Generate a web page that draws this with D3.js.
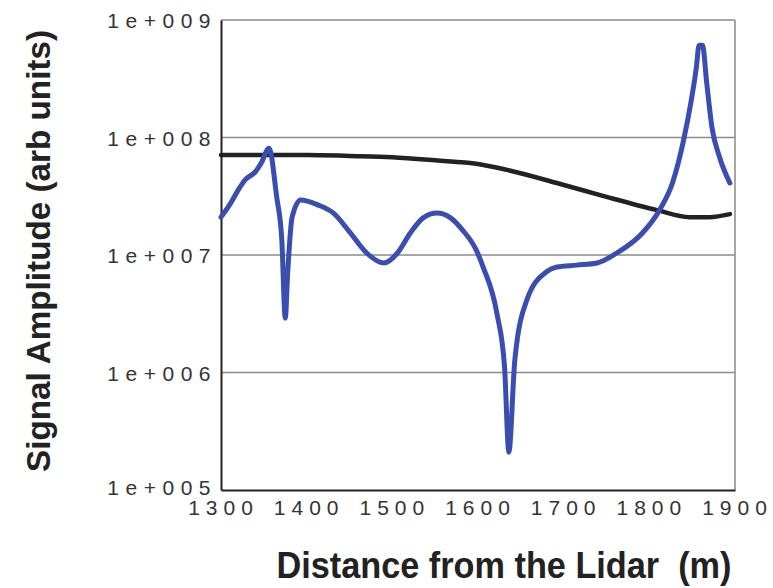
<!DOCTYPE html>
<html><head><meta charset="utf-8">
<script src="https://cdn.jsdelivr.net/npm/d3@7"></script>
<style>body{margin:0;background:#fff}svg{display:block}</style>
</head><body>
<svg id="c" width="773" height="588"></svg>
<script>
const xTicks = [1300,1400,1500,1600,1700,1800,1900];
const yTicks = [1e5,1e6,1e7,1e8,1e9];
const blackX = [1300,1400,1450,1500,1550,1600,1634,1692,1750,1808,1847,1870,1894];
const blackY = [7.1e7,7.1e7,6.97e7,6.8e7,6.4e7,5.95e7,5.3e7,4.1e7,3.12e7,2.42e7,2.1e7,2.1e7,2.23e7];
const blueX = [1300,1310,1320,1328,1340,1347,1356,1365,1371,1375,1378,1383,1393,1413,1431,1451,1470,1490,1506,1521,1536,1552,1568,1582,1598,1606,1622,1631,1636,1643,1657,1680,1692,1715,1739,1762,1792,1812,1827,1840,1849,1855,1858,1862,1867,1873,1882,1894];
const blueY = [2.1e7,2.67e7,3.57e7,4.35e7,5.1e7,6.07e7,8.1e7,3.12e7,1.34e7,2.9e6,7.4e6,2.1e7,2.94e7,2.67e7,2.28e7,1.54e7,1.04e7,8.55e6,1.04e7,1.54e7,2.07e7,2.28e7,2.07e7,1.63e7,1.1e7,7.9e6,3.2e6,1.11e6,2.1e5,1.28e6,4.14e6,7.2e6,7.9e6,8.2e6,8.55e6,1.04e7,1.54e7,2.42e7,4.1e7,9.5e7,2.08e8,4.0e8,6.1e8,6.1e8,2.91e8,1.23e8,6.8e7,4.1e7];

const svg = d3.select("#c");
const L=221, R=735, T=20, B=490;
const x = d3.scaleLinear().domain([1300,1900]).range([L,R]);
const y = d3.scaleLog().domain([1e5,1e9]).range([B,T]);
const font = "'Liberation Sans', Arial, sans-serif";

// gridlines
svg.append("g").selectAll("line").data(yTicks.slice(1,4)).join("line")
  .attr("x1",L).attr("x2",R).attr("y1",d=>y(d)).attr("y2",d=>y(d))
  .attr("stroke","#8a8a8a").attr("stroke-width",1.5);
// top/right frame
svg.append("line").attr("x1",L).attr("x2",R).attr("y1",T).attr("y2",T).attr("stroke","#8a8a8a").attr("stroke-width",1.5);
svg.append("line").attr("x1",R).attr("x2",R).attr("y1",T).attr("y2",B).attr("stroke","#8a8a8a").attr("stroke-width",1.5);

// axes
const fmt = d => "1e+" + String(Math.round(Math.log10(d))).padStart(3,"0");
const ya = svg.append("g").attr("transform",`translate(${L},0)`)
  .call(d3.axisLeft(y).tickValues(yTicks).tickFormat(fmt).tickSize(0).tickPadding(12));
ya.select(".domain").attr("stroke","#222").attr("stroke-width",2);
ya.selectAll("text").attr("font-family",font).attr("font-size",21).attr("fill","#333")
  .attr("letter-spacing","6.5px").attr("dx","8px").attr("dy",d=>d===1e5?"0.2em":"0.36em");
const xa = svg.append("g").attr("transform",`translate(0,${B})`)
  .call(d3.axisBottom(x).tickValues(xTicks).tickFormat(d3.format("d")).tickSize(0).tickPadding(10));
xa.select(".domain").attr("stroke","#222").attr("stroke-width",2);
xa.selectAll("text").attr("font-family",font).attr("font-size",21).attr("fill","#333")
  .attr("letter-spacing","6px").attr("dx","2px");

// lines
const line = (xs,ys) => d3.line().x((d,i)=>x(xs[i])).y((d,i)=>y(ys[i])).curve(d3.curveMonotoneX)(xs);
svg.append("path").attr("d",line(blackX,blackY)).attr("fill","none").attr("stroke","#222").attr("stroke-width",4.5).attr("stroke-linejoin","round").attr("stroke-linecap","round");
svg.append("path").attr("d",line(blueX,blueY)).attr("fill","none").attr("stroke","#3a4db0").attr("stroke-width",5).attr("stroke-linejoin","round").attr("stroke-linecap","round");

// titles
svg.append("text").attr("x",504).attr("y",578).attr("text-anchor","middle")
  .attr("font-family",font).attr("font-weight","bold").attr("font-size",36).attr("fill","#222")
  .attr("textLength",455).attr("lengthAdjust","spacingAndGlyphs").style("white-space","pre")
  .text("Distance from the Lidar  (m)");
svg.append("text").attr("transform","translate(50,251) rotate(-90)").attr("text-anchor","middle")
  .attr("font-family",font).attr("font-weight","bold").attr("font-size",34).attr("fill","#222")
  .attr("textLength",442).attr("lengthAdjust","spacingAndGlyphs")
  .text("Signal Amplitude (arb units)");
</script>
</body></html>
